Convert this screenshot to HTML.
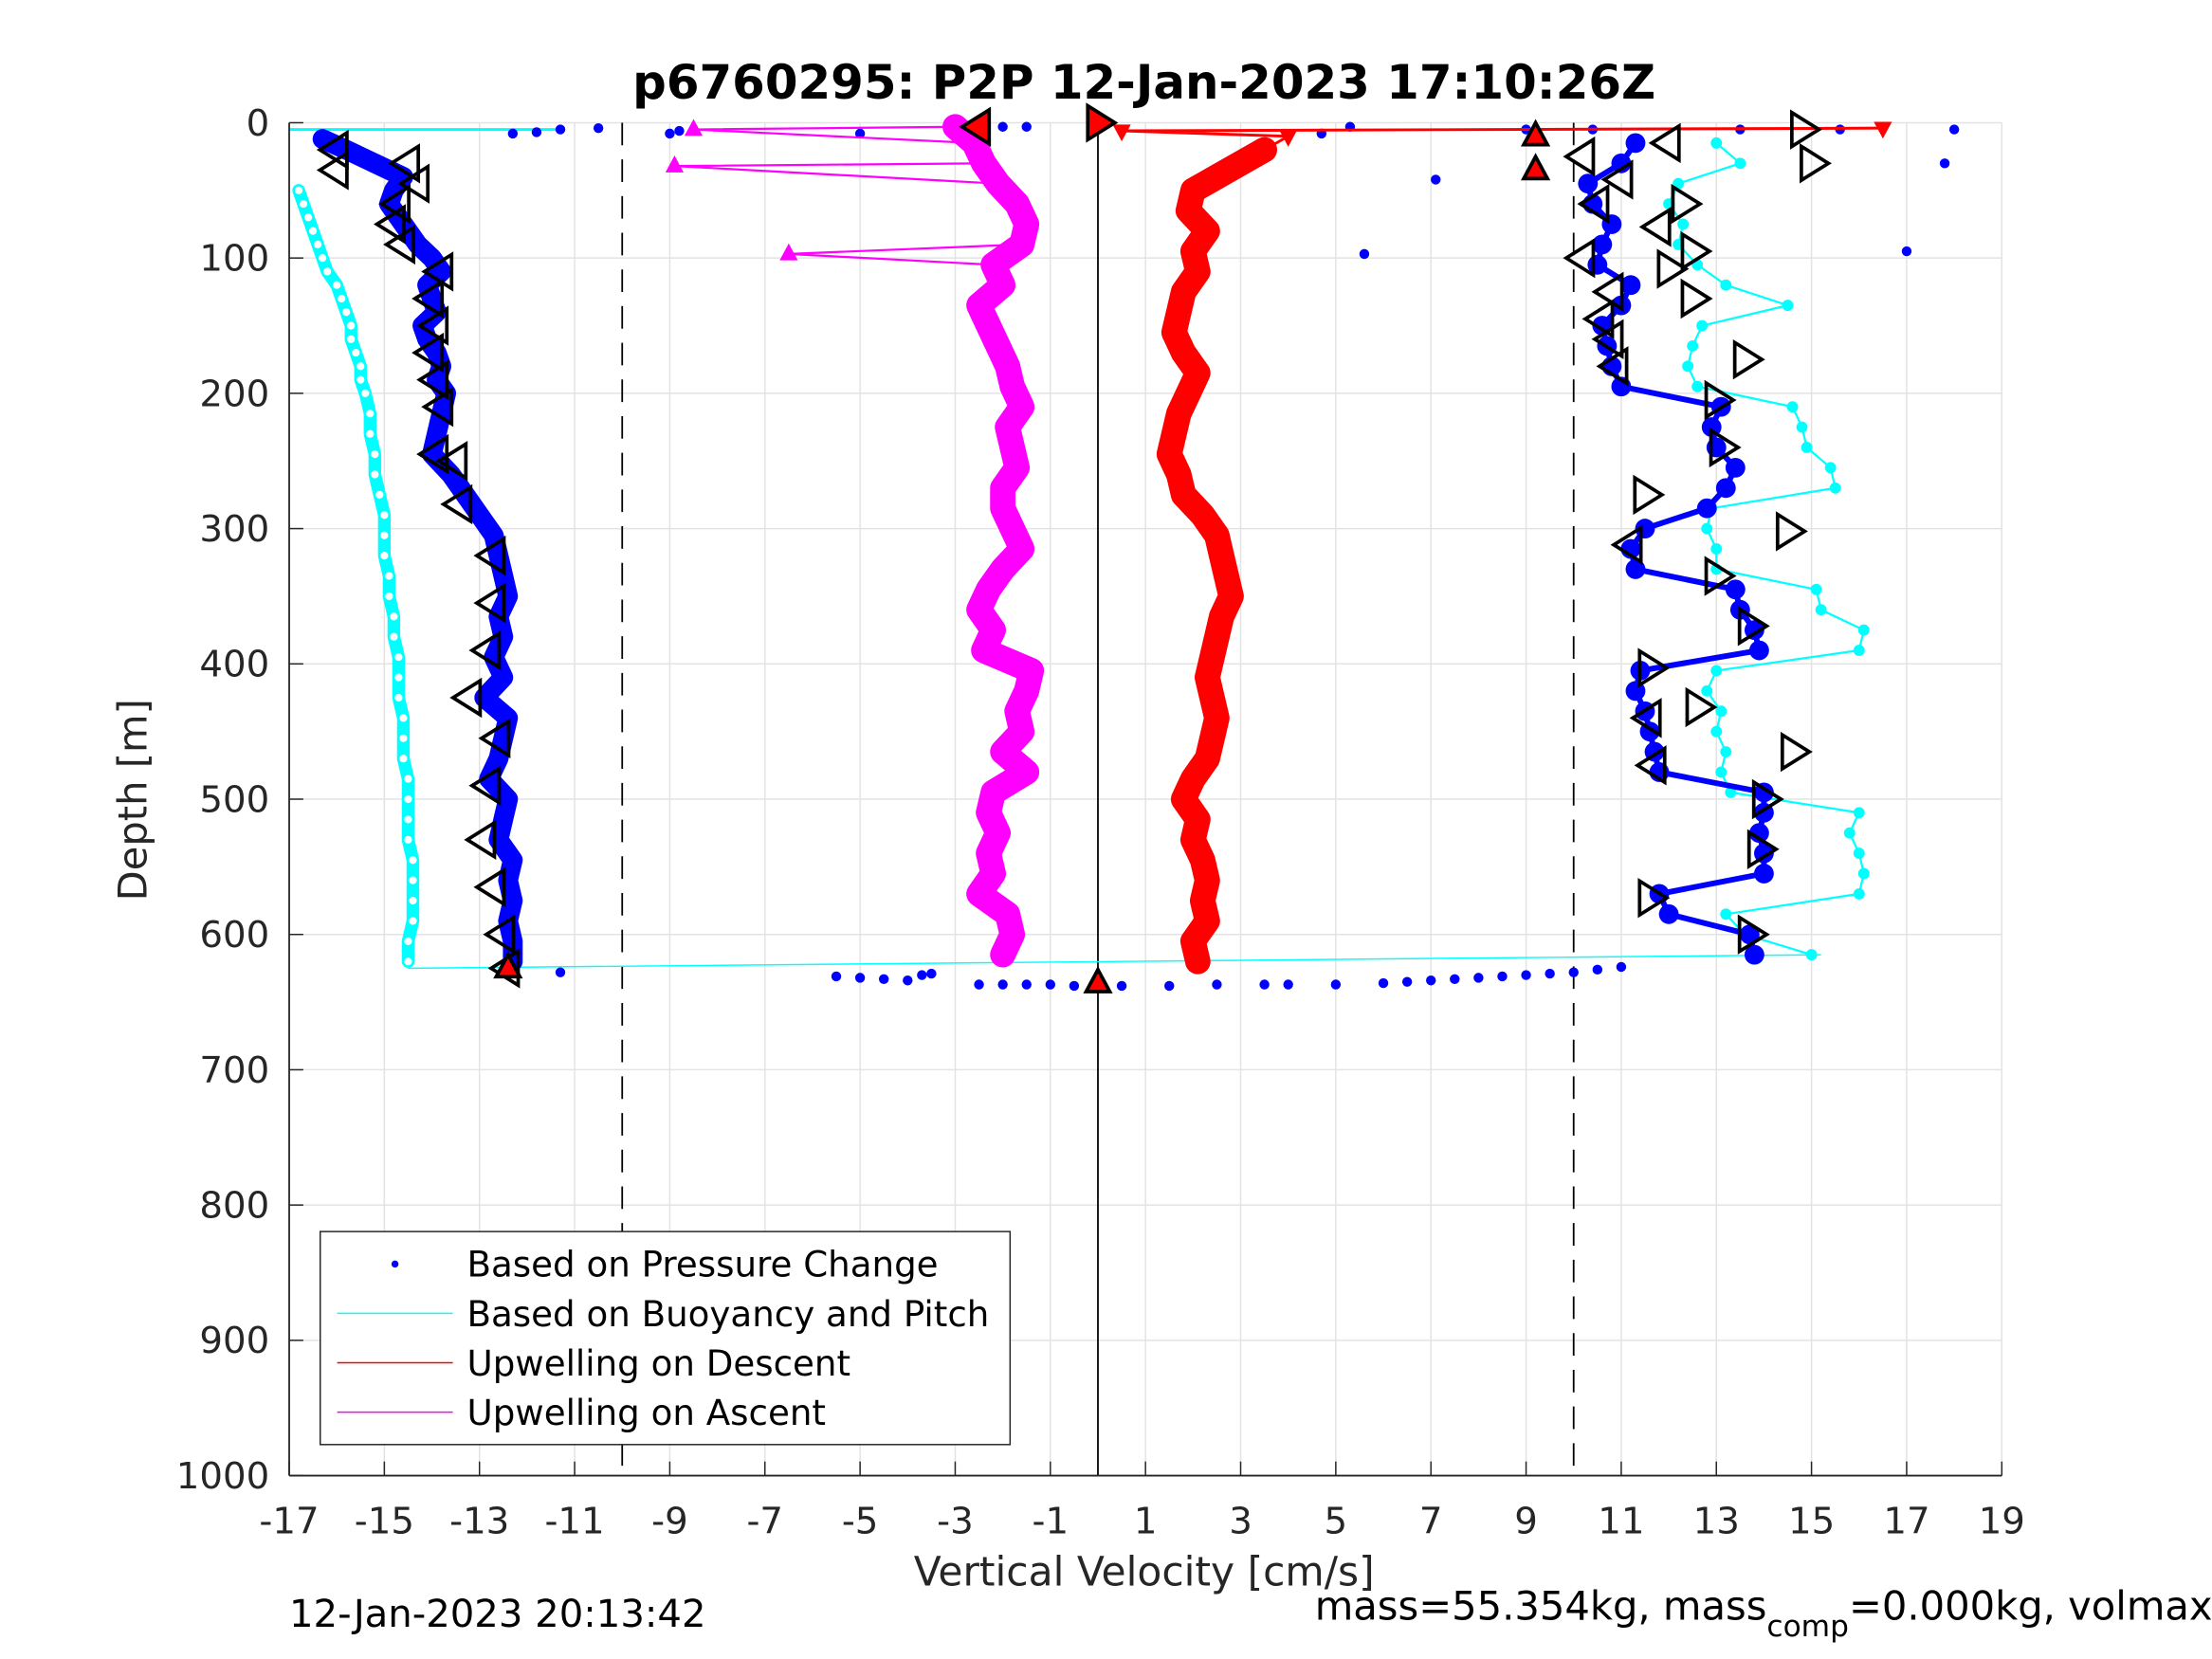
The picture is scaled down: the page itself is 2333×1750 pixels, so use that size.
<!DOCTYPE html>
<html><head><meta charset="utf-8"><style>
html,body{margin:0;padding:0;background:#fff;}
svg{display:block;font-family:"DejaVu Sans","Liberation Sans",sans-serif;}
</style></head><body>
<svg id="chart" width="2333" height="1750" viewBox="0 0 1568 1176" preserveAspectRatio="none" xmlns="http://www.w3.org/2000/svg">
<rect x="0" y="0" width="1568" height="1176" fill="#fff"/>
<g id="grid"></g>
<g id="marks"></g>
<g id="axes"></g>
<text x="811" y="70" text-anchor="middle" font-size="33.5" font-weight="bold">p6760295: P2P 12-Jan-2023 17:10:26Z</text>
<text x="811" y="1124" text-anchor="middle" font-size="28.5" fill="#262626">Vertical Velocity [cm/s]</text>
<text transform="translate(104,567) rotate(-90)" text-anchor="middle" font-size="28" fill="#262626">Depth [m]</text>
<text x="205" y="1153" font-size="27">12-Jan-2023 20:13:42</text>
<text x="932" y="1148" font-size="28">mass=55.354kg, mass<tspan font-size="21" dy="12">comp</tspan><tspan dy="-12">=0.000kg, volmax=</tspan></text>
<g>
<rect x="227" y="873" width="489" height="151" fill="#fff" stroke="#262626" stroke-width="1"/>
<circle cx="280" cy="896" r="2.5" fill="#0000ff"/>
<text x="331" y="905" font-size="25">Based on Pressure Change</text>
<line x1="239" y1="931" x2="321" y2="931" stroke="#00ffff" stroke-width="1"/>
<text x="331" y="940" font-size="25">Based on Buoyancy and Pitch</text>
<line x1="239" y1="966" x2="321" y2="966" stroke="#ff0000" stroke-width="1"/>
<text x="331" y="975" font-size="25">Upwelling on Descent</text>
<line x1="239" y1="1001" x2="321" y2="1001" stroke="#ff00ff" stroke-width="1"/>
<text x="331" y="1010" font-size="25">Upwelling on Ascent</text>
</g>
</svg>
<script>
const xTicks = [-17,-15,-13,-11,-9,-7,-5,-3,-1,1,3,5,7,9,11,13,15,17,19];
const yTicks = [0,100,200,300,400,500,600,700,800,900,1000];
// descent, pressure based (blue)
const descDepth = [12,20,30,40,50,60,70,80,90,100,110,120,130,140,150,160,170,180,190,200,215,230,245,260,275,290,305,320,335,350,365,380,395,410,425,440,455,470,485,500,515,530,545,560,575,590,605,620];
const descPress = [-16.3,-15.8,-15.2,-14.6,-14.8,-14.9,-14.7,-14.5,-14.3,-14.0,-13.8,-14.1,-14.0,-13.9,-14.2,-14.1,-13.9,-13.8,-13.9,-13.7,-13.8,-13.9,-14.0,-13.6,-13.3,-13.0,-12.7,-12.6,-12.5,-12.4,-12.6,-12.5,-12.7,-12.5,-12.9,-12.4,-12.5,-12.6,-12.8,-12.4,-12.5,-12.6,-12.3,-12.4,-12.3,-12.4,-12.3,-12.3];
const descBuoy = [-16.9,-16.9,-16.9,-16.9,-16.8,-16.7,-16.6,-16.5,-16.4,-16.3,-16.2,-16.0,-15.9,-15.8,-15.7,-15.7,-15.6,-15.5,-15.5,-15.4,-15.3,-15.3,-15.2,-15.2,-15.1,-15.0,-15.0,-15.0,-14.9,-14.9,-14.8,-14.8,-14.7,-14.7,-14.7,-14.6,-14.6,-14.6,-14.5,-14.5,-14.5,-14.5,-14.4,-14.4,-14.4,-14.4,-14.5,-14.5];
// ascent
const ascDepth = [615,600,585,570,555,540,525,510,495,480,465,450,435,420,405,390,375,360,345,330,315,300,285,270,255,240,225,210,195,180,165,150,135,120,105,90,75,60,45,30,15];
const ascPress = [13.8,13.7,12.0,11.8,14.0,14.0,13.9,14.0,14.0,11.8,11.7,11.6,11.5,11.3,11.4,13.9,13.8,13.5,13.4,11.3,11.2,11.5,12.8,13.2,13.4,13.0,12.9,13.1,11.0,10.8,10.7,10.6,11.0,11.2,10.5,10.6,10.8,10.4,10.3,11.0,11.3];
const ascBuoy = [15.0,13.6,13.2,16.0,16.1,16.0,15.8,16.0,13.3,13.1,13.2,13.0,13.1,12.8,13.0,16.0,16.1,15.2,15.1,13.0,13.0,12.8,12.9,15.5,15.4,14.9,14.8,14.6,12.6,12.4,12.5,12.7,14.5,13.2,12.6,12.2,12.3,12.0,12.2,13.5,13.0];
// bottom turnaround cluster (blue)
const botVel = [-5.5,-5,-4.5,-4,-3.7,-3.5,-2.5,-2,-1.5,-1,-0.5,0,0.5,1.5,2.5,3.5,4,5,6,6.5,7,7.5,8,8.5,9,9.5,10,10.5,11,-11.3];
const botDepth = [631,632,633,634,630,629,637,637,637,637,638,638,638,638,637,637,637,637,636,635,634,633,632,631,630,629,628,626,624,628];
// surface scatter (blue)
const topVel = [-11.8,-12.3,-11.3,-10.5,-9.0,-8.8,-5.0,-2.0,-1.5,5.3,4.7,5.6,7.1,9.0,10.4,13.5,15.6,18.0,17.8,17.0];
const topDepth = [7,8,5,4,8,6,8,3,3,3,8,97,42,5,5,5,5,5,30,95];
// upwelling descent (red)
const upDescDepth = [4,6,10,20,30,40,50,65,80,95,110,125,140,155,170,185,200,215,230,245,260,275,290,305,320,335,350,365,380,395,410,425,440,455,470,485,500,515,530,545,560,575,590,605,620];
const upDescVel = [16.5,0.5,4.0,3.5,3.0,2.5,2.0,1.9,2.3,2.0,2.1,1.8,1.7,1.6,1.8,2.1,1.9,1.7,1.6,1.5,1.7,1.8,2.2,2.5,2.6,2.7,2.8,2.6,2.5,2.4,2.3,2.4,2.5,2.4,2.3,2.0,1.8,2.1,2.0,2.2,2.3,2.2,2.3,2.0,2.1];
// upwelling ascent (magenta)
const upAscDepth = [615,600,585,570,555,540,525,510,495,480,465,450,435,420,405,390,375,360,345,330,315,300,285,270,255,240,225,210,195,180,165,150,135,120,105,97,90,75,60,45,32,30,15,5,3];
const upAscVel = [-2.0,-1.8,-1.9,-2.5,-2.2,-2.3,-2.1,-2.3,-2.2,-1.5,-2.0,-1.6,-1.7,-1.5,-1.4,-2.4,-2.2,-2.5,-2.3,-2.0,-1.6,-1.8,-2.0,-2.0,-1.7,-1.8,-1.9,-1.6,-1.8,-1.9,-2.1,-2.3,-2.5,-2.0,-2.2,-6.5,-1.6,-1.5,-1.7,-2.1,-8.9,-2.4,-2.6,-8.5,-3.0];
// black hollow markers
const leftMarkDepth = [20,35,30,45,60,75,90,110,130,150,170,190,210,245,250,282,320,355,390,425,455,490,530,565,600,625,15,25,42,60,77,100,125,145,160,180,312,440,475];
const leftMarkVel = [-16,-16,-14.5,-14.3,-14.7,-14.8,-14.6,-13.8,-14,-13.9,-14,-13.9,-13.8,-13.9,-13.5,-13.4,-12.7,-12.7,-12.8,-13.2,-12.6,-12.8,-12.9,-12.7,-12.5,-12.4,12,10.2,11,10.5,11.8,10.2,10.8,10.6,10.8,10.9,11.2,11.6,11.7];
const rightMarkDepth = [5,30,60,95,108,130,175,205,240,275,302,335,372,403,432,465,500,537,573,600];
const rightMarkVel = [14.8,15,12.3,12.5,12,12.5,13.6,13,13.1,11.5,14.5,13,13.7,11.6,12.6,14.6,14,13.9,11.6,13.7];

const X0=205, X1=1419, Y0=87, Y1=1046;
const sx = v => X0 + (v+17)/36*(X1-X0);
const sy = d => Y0 + d/1000*(Y1-Y0);
const NS='http://www.w3.org/2000/svg';
function mk(tag, parent, attrs){const e=document.createElementNS(NS,tag);for(const k in attrs)e.setAttribute(k,attrs[k]);parent.appendChild(e);return e;}
const grid=document.getElementById('grid'), marks=document.getElementById('marks'), axes=document.getElementById('axes');

xTicks.forEach(t=>{const l=mk('line',grid,{x1:sx(t),x2:sx(t),y1:Y0,y2:Y1,stroke:'#e3e3e3','stroke-width':1});

});
yTicks.forEach(t=>{const l=mk('line',grid,{x1:X0,x2:X1,y1:sy(t),y2:sy(t),stroke:'#e3e3e3','stroke-width':1});

});
[-10,10].forEach(v=>{const l=mk('line',grid,{x1:sx(v),x2:sx(v),y1:Y0,y2:Y1,stroke:'#000','stroke-width':1.2,'stroke-dasharray':'16,10'});

});
{const l=mk('line',grid,{x1:sx(0),x2:sx(0),y1:Y0,y2:Y1,stroke:'#000','stroke-width':1.2});

}

function poly(xs, ds, color, w, name){
  const pts = xs.map((v,i)=>sx(v)+','+sy(ds[i])).join(' ');
  const p=mk('polyline',marks,{points:pts,fill:'none',stroke:color,'stroke-width':w,'stroke-linejoin':'round','stroke-linecap':'round'});
  
  
}
function dots(xs, ds, color, r, name, hollow){
  xs.forEach((v,i)=>{const c=mk('circle',marks,{cx:sx(v),cy:sy(ds[i]),r:r,fill:hollow?'#fff':color,stroke:color,'stroke-width':hollow?1.5:0});
  
  });
}
function tri(v,d,dir,fill,name,s,sw){
  s=s||9; const x=sx(v), y=sy(d); let pts;
  if(dir==='L') pts=[[x-s,y],[x+s*0.6,y-s],[x+s*0.6,y+s]];
  else if(dir==='R') pts=[[x+s,y],[x-s*0.6,y-s],[x-s*0.6,y+s]];
  else if(dir==='U') pts=[[x,y-s*0.8],[x-s*0.7,y+s*0.5],[x+s*0.7,y+s*0.5]];
  else pts=[[x,y+s*0.8],[x-s*0.7,y-s*0.5],[x+s*0.7,y-s*0.5]];
  const stroke = sw ? '#000' : fill;
  const p=mk('polygon',marks,{points:pts.map(q=>q.join(',')).join(' '),fill:fill,stroke:stroke,'stroke-width':sw||1,'stroke-linejoin':'miter'});
  
  
}

// cyan buoyancy lines
{const l=mk('line',marks,{x1:sx(-17),x2:sx(-11.3),y1:sy(5),y2:sy(5),stroke:'#00ffff','stroke-width':2});

}
poly(descBuoy.slice(4), descDepth.slice(4), '#00ffff', 9, 'descent-buoyancy-band');
dots(descBuoy.slice(4), descDepth.slice(4), '#00ffff', 3.5, 'descent-buoyancy-point', true);
{const l=mk('line',marks,{x1:sx(-14.5),x2:sx(15.2),y1:sy(625),y2:sy(615),stroke:'#00ffff','stroke-width':1});

}
poly(ascBuoy, ascDepth, '#00ffff', 1.5, 'ascent-buoyancy-line');
dots(ascBuoy, ascDepth, '#00ffff', 4, 'ascent-buoyancy-point', false);

// blue pressure
poly(descPress, descDepth, '#0000ff', 14, 'descent-pressure-band');
dots(descPress, descDepth, '#0000ff', 5, 'descent-pressure-point');
poly(ascPress, ascDepth, '#0000ff', 4, 'ascent-pressure-band');
dots(ascPress, ascDepth, '#0000ff', 7, 'ascent-pressure-point');
dots(botVel, botDepth, '#0000ff', 3.5, 'bottom-pressure-point');
dots(topVel, topDepth, '#0000ff', 3.5, 'surface-pressure-point');

// magenta ascent upwelling
poly(upAscVel, upAscDepth, '#ff00ff', 1.5, 'upwelling-ascent-line');
poly(upAscVel.filter((v,i)=>v>-4), upAscDepth.filter((v,i)=>upAscVel[i]>-4), '#ff00ff', 18, 'upwelling-ascent-band');
upAscVel.forEach((v,i)=>tri(v,upAscDepth[i],'U','#ff00ff','upwelling-ascent-point',8));
// red descent upwelling
poly(upDescVel, upDescDepth, '#ff0000', 2, 'upwelling-descent-line');
poly(upDescVel.slice(3), upDescDepth.slice(3), '#ff0000', 18, 'upwelling-descent-band');
upDescVel.forEach((v,i)=>tri(v,upDescDepth[i],'D','#ff0000','upwelling-descent-point',8));

// black markers
leftMarkVel.forEach((v,i)=>tri(v,leftMarkDepth[i],'L','none','marker-left',12,2.5));
rightMarkVel.forEach((v,i)=>tri(v,rightMarkDepth[i],'R','none','marker-right',12,2.5));
// red key markers
tri(0,0,'R','#ff0000','key-marker-start',12,2.5);
tri(-2.5,3,'L','#ff0000','key-marker-surface',12,2.5);
tri(9.2,10,'U','#ff0000','key-marker-descent',12,2.5);
tri(9.2,35,'U','#ff0000','key-marker-ascent',12,2.5);
tri(0,636,'U','#ff0000','key-marker-bottom',12,2.5);
tri(-12.4,625,'U','#ff0000','key-marker-bottom-left',12,2.5);

// axes box
mk('line',axes,{x1:X0,x2:X0,y1:Y0,y2:Y1,stroke:'#262626','stroke-width':1.2});
mk('line',axes,{x1:X0,x2:X1,y1:Y1,y2:Y1,stroke:'#262626','stroke-width':1.2});
xTicks.forEach(t=>{mk('line',axes,{x1:sx(t),x2:sx(t),y1:Y1,y2:Y1-10,stroke:'#262626','stroke-width':1});
const tx=mk('text',axes,{x:sx(t),y:1087,'text-anchor':'middle','font-size':'26',fill:'#262626'});tx.textContent=t;

});
yTicks.forEach(t=>{mk('line',axes,{x1:X0,x2:X0+10,y1:sy(t),y2:sy(t),stroke:'#262626','stroke-width':1});
const tx=mk('text',axes,{x:191,y:sy(t)+9,'text-anchor':'end','font-size':'26',fill:'#262626'});tx.textContent=t;

});
</script>
</body></html>
